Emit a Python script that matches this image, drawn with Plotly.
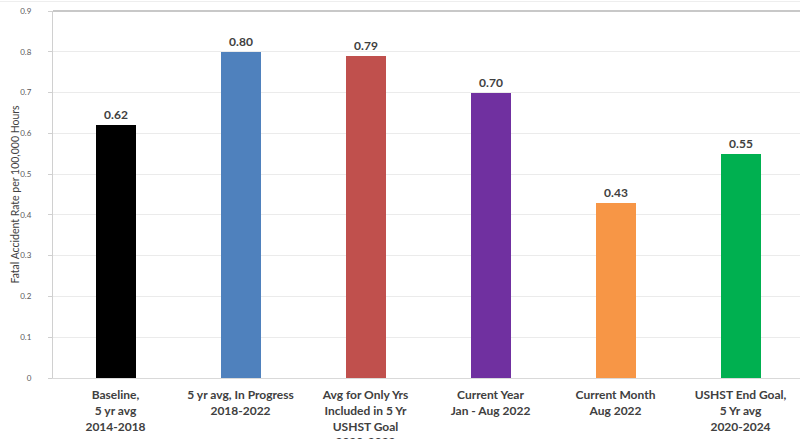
import plotly.graph_objects as go

# Fatal accident rate per 100,000 flight hours, by reporting period
categories = [
    "Baseline,<br>5 yr avg<br>2014-2018",
    "5 yr avg, In Progress<br>2018-2022",
    "Avg for Only Yrs<br>Included in 5 Yr<br>USHST Goal<br>2020-2022",
    "Current Year<br>Jan - Aug 2022",
    "Current Month<br>Aug 2022",
    "USHST End Goal,<br>5 Yr avg<br>2020-2024",
]
rates = [0.62, 0.80, 0.79, 0.70, 0.43, 0.55]
bar_colors = ["#000000", "#4F81BD", "#C0504D", "#7030A0", "#F79646", "#00B050"]
y_ticks = [0, 0.1, 0.2, 0.3, 0.4, 0.5, 0.6, 0.7, 0.8, 0.9]
y_tick_text = ["0", "0.1", "0.2", "0.3", "0.4", "0.5", "0.6", "0.7", "0.8", "0.9"]
y_title = "Fatal Accident Rate per 100,000 Hours"

W, H = 800, 439
ml, mr, mt, mb = 53, 0, 11, 61

fig = go.Figure(
    go.Bar(
        x=list(range(len(categories))),
        y=rates,
        marker=dict(color=bar_colors, line=dict(width=0)),
        width=0.32,
        text=[f"{v:.2f}" for v in rates],
        textposition="outside",
        textfont=dict(family="Lato", size=12, color="#404040", weight="bold"),
        cliponaxis=False,
        hoverinfo="skip",
    )
)

fig.update_layout(
    width=W,
    height=H,
    margin=dict(l=ml, r=mr, t=mt, b=mb, pad=0),
    paper_bgcolor="white",
    plot_bgcolor="white",
    showlegend=False,
    bargap=0,
    font=dict(family="Lato", color="#404040"),
)

fig.update_xaxes(
    tickmode="array",
    tickvals=list(range(len(categories))),
    ticktext=categories,
    range=[-0.5, -0.5 + (W - ml - mr) / 125.0],
    tickfont=dict(family="Lato", size=12, color="#404040", weight="bold"),
    showgrid=False,
    showline=True,
    linecolor="#D9D9D9",
    linewidth=1,
    ticks="",
    ticklabelstandoff=6,
    automargin=False,
    fixedrange=True,
)

fig.update_yaxes(
    range=[0, 0.9],
    tickmode="array",
    tickvals=y_ticks,
    ticktext=y_tick_text,
    tickfont=dict(family="Lato", size=8, color="#595959"),
    showgrid=True,
    gridcolor="#EBEBEB",
    gridwidth=1,
    zeroline=False,
    showline=True,
    linecolor="#D0D0D0",
    linewidth=1,
    ticks="outside",
    ticklen=4,
    tickcolor="#D0D0D0",
    ticklabelstandoff=15,
    automargin=False,
    fixedrange=True,
)

# Rotated y-axis title, left of the tick labels
fig.add_annotation(
    text=y_title,
    xref="paper", yref="paper", x=0, y=0.5,
    xanchor="center", yanchor="middle",
    xshift=-39, textangle=-90, showarrow=False,
    font=dict(family="Lato", size=10.5, color="#404040"),
)

# Top border of the plot area and the faint outer frame line above it
fig.add_shape(type="line", xref="paper", yref="paper", x0=0, x1=1, y0=1, y1=1,
              line=dict(color="#C8C8C8", width=2))
fig.add_shape(type="line", xref="paper", yref="paper", x0=-0.1, x1=1,
              y0=1 + 9.5 / (H - mt - mb), y1=1 + 9.5 / (H - mt - mb),
              line=dict(color="#EEEEEE", width=1))

fig.write_html("out.html")
